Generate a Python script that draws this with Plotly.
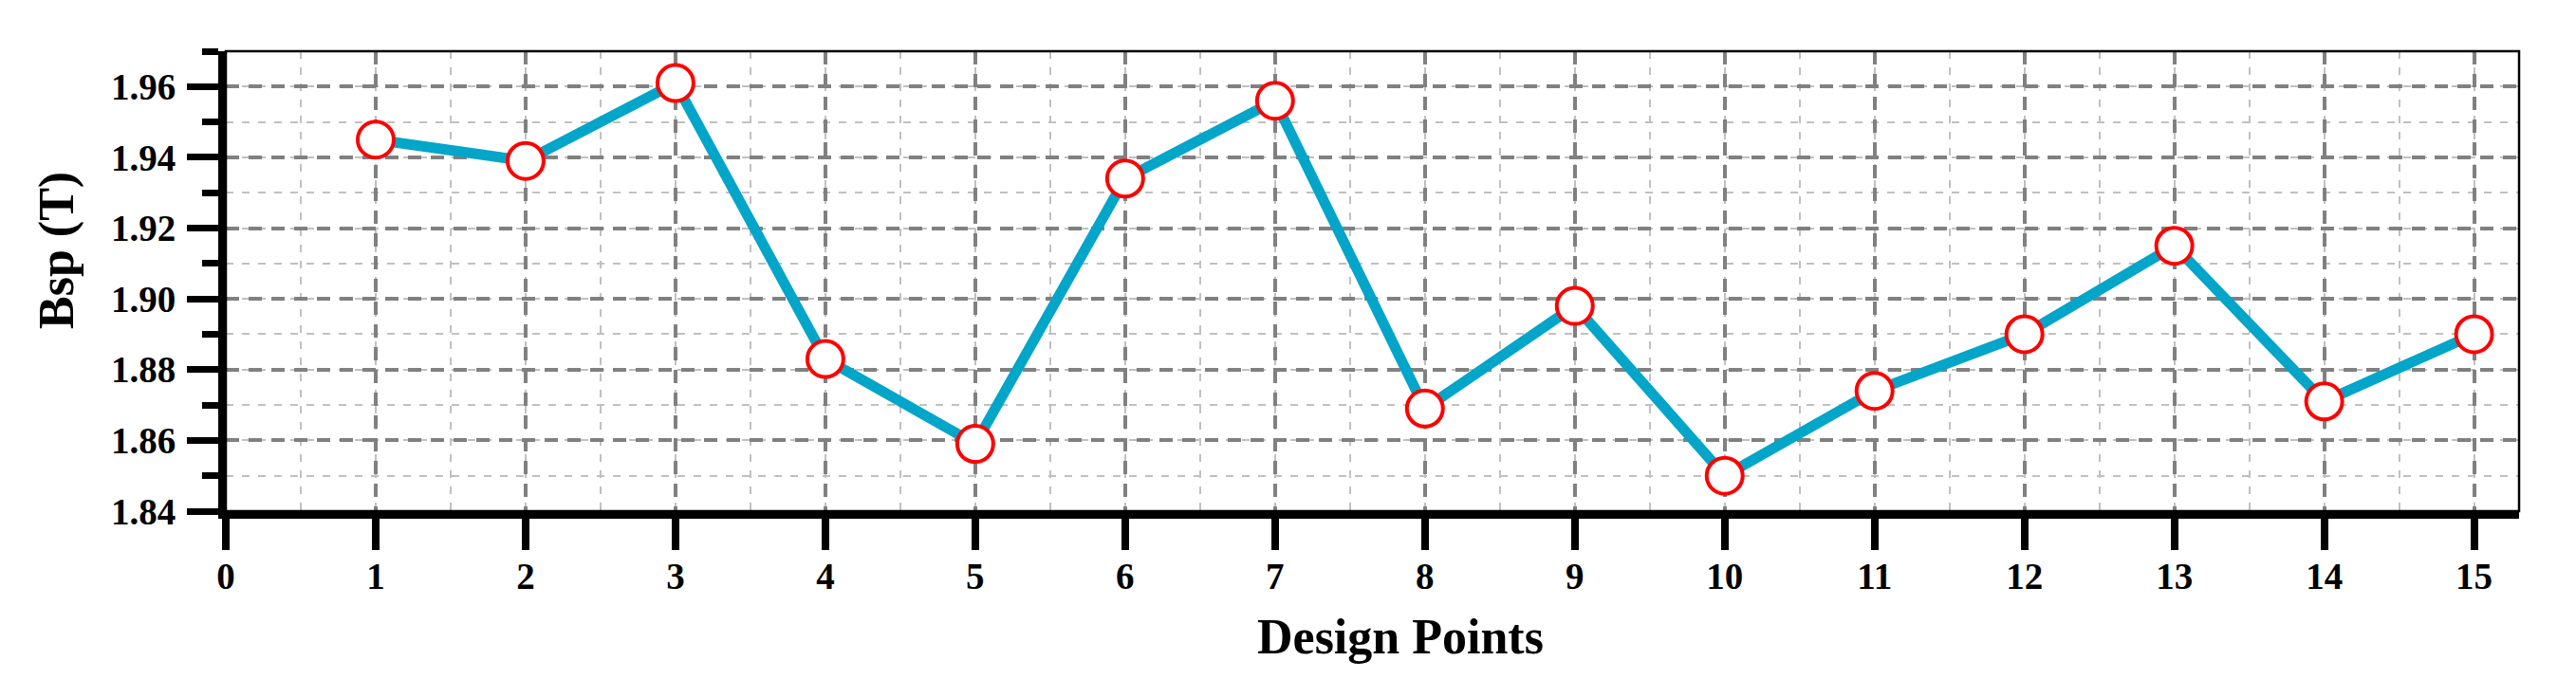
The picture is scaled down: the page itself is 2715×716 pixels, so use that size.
import plotly.graph_objects as go

# design points and Bsp values
design_points = [1, 2, 3, 4, 5, 6, 7, 8, 9, 10, 11, 12, 13, 14, 15]
bsp_values = [1.945, 1.939, 1.961, 1.883, 1.859, 1.934, 1.956, 1.869,
              1.898, 1.850, 1.874, 1.890, 1.915, 1.871, 1.890]

x_ticks = list(range(0, 16))
y_ticks = [1.84, 1.86, 1.88, 1.90, 1.92, 1.94, 1.96]

FONT = "Times New Roman, Liberation Serif, serif"

fig = go.Figure()

fig.add_trace(
    go.Scatter(
        x=design_points,
        y=bsp_values,
        mode="lines+markers",
        line=dict(color="#03A5C9", width=11),
        marker=dict(size=38, color="white", line=dict(color="#FF0000", width=4)),
        showlegend=False,
        hoverinfo="x+y",
    )
)

# X軸
fig.update_xaxes(
    range=[0, 15.3],
    tickvals=x_ticks,
    ticktext=[str(v) for v in x_ticks],
    showline=True,
    linewidth=8,
    linecolor="black",
    ticks="outside",
    ticklen=33,
    tickwidth=8,
    tickcolor="black",
    ticklabelstandoff=-6,
    tickfont=dict(family=FONT, size=39, color="black", weight="bold"),
    showgrid=True,
    gridcolor="#808080",
    gridwidth=3.5,
    griddash="14px,10px",
    zeroline=False,
    minor=dict(dtick=0.5, tick0=0, ticks="", showgrid=True,
               gridcolor="#C0C0C0", gridwidth=2, griddash="8px,9px"),
)

# Y軸
fig.update_yaxes(
    range=[1.84, 1.97],
    tickvals=y_ticks,
    tickformat=".2f",
    showline=True,
    linewidth=8,
    linecolor="black",
    ticks="outside",
    ticklen=33,
    tickwidth=7,
    tickcolor="black",
    ticklabelstandoff=4,
    tickfont=dict(family=FONT, size=39, color="black", weight="bold"),
    showgrid=True,
    gridcolor="#808080",
    gridwidth=3.5,
    griddash="14px,10px",
    zeroline=False,
    minor=dict(dtick=0.01, tick0=1.84, ticks="outside", ticklen=17, tickwidth=7,
               tickcolor="black", showgrid=True,
               gridcolor="#C0C0C0", gridwidth=2, griddash="8px,9px"),
)

# thin frame on top / right
fig.add_shape(type="rect", xref="paper", yref="paper", x0=0, x1=1, y0=0, y1=1,
              line=dict(color="black", width=2.5), layer="above")

# axis titles
fig.add_annotation(
    text="Design Points", xref="paper", yref="paper", x=0.512, y=0,
    xanchor="center", yanchor="middle", yshift=-132, showarrow=False,
    font=dict(family=FONT, size=52, color="black", weight="bold"),
)
fig.add_annotation(
    text="Bsp (T)", xref="paper", yref="paper", x=0, y=0.567,
    xanchor="center", yanchor="middle", xshift=-178, textangle=-90, showarrow=False,
    font=dict(family=FONT, size=52, color="black", weight="bold"),
)

# the page body adds 8px around the plot, so the figure is a bit smaller
fig.update_layout(
    width=2699,
    height=700,
    margin=dict(l=230, r=52, t=46, b=169),
    paper_bgcolor="white",
    plot_bgcolor="white",
    showlegend=False,
)

fig.write_html("out.html")
